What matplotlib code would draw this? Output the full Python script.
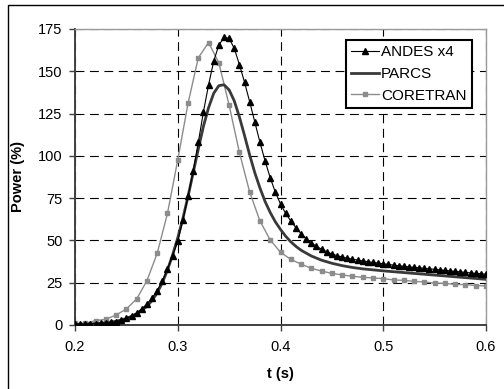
# Power transient comparison: ANDES x4 vs PARCS vs CORETRAN
import numpy as np
import matplotlib
matplotlib.use('Agg')
import matplotlib.pyplot as plt
from matplotlib.patches import Rectangle

plt.rcParams['font.family'] = ['Liberation Sans', 'DejaVu Sans']

# ANDES x4, sampled every 0.005 s from 0.2 to 0.6 s
andes_t = np.round(np.arange(0.2, 0.6001, 0.005), 3)
andes_p = [0.5, 0.5, 0.6, 0.7, 0.8, 1.0, 1.2, 1.5, 2.0, 2.8,
           4.0, 5.3, 7.2, 9.6, 12.4, 16.0, 20.3, 26.0, 33.0, 41.0,
           49.5, 62.0, 76.0, 91.0, 108.0, 126.0, 142.0, 156.0, 165.5, 170.0,
           169.5, 163.5, 154.0, 143.5, 132.0, 120.0, 108.0, 97.0, 87.0, 78.5,
           71.5, 66.0, 61.5, 57.5, 54.0, 51.0, 48.5, 46.5, 44.8, 43.3,
           42.0, 41.0, 40.2, 39.5, 38.9, 38.4, 37.9, 37.4, 37.0, 36.6,
           36.2, 35.8, 35.4, 35.0, 34.7, 34.4, 34.1, 33.8, 33.5, 33.2,
           32.9, 32.6, 32.3, 32.0, 31.7, 31.4, 31.1, 30.8, 30.5, 30.3,
           30.0]

# PARCS (solid line)
parcs_t = [0.20, 0.21, 0.22, 0.23, 0.24, 0.25, 0.26, 0.27, 0.275, 0.28,
           0.285, 0.29, 0.295, 0.30, 0.305, 0.31, 0.315, 0.32, 0.325, 0.33,
           0.335, 0.34, 0.345, 0.35, 0.355, 0.36, 0.365, 0.37, 0.375, 0.38,
           0.385, 0.39, 0.395, 0.40, 0.405, 0.41, 0.415, 0.42, 0.43, 0.44,
           0.45, 0.46, 0.47, 0.48, 0.49, 0.50, 0.52, 0.54, 0.56, 0.58, 0.60]
parcs_p = [0.3, 0.5, 0.8, 1.3, 2.2, 3.8, 6.5, 11.0, 14.5, 19.0,
           25.0, 32.5, 41.5, 51.5, 63.0, 76.0, 90.0, 104.0, 117.5, 128.5,
           137.0, 141.5, 142.0, 139.0, 132.5, 123.0, 112.0, 100.5, 90.0, 81.0,
           73.0, 66.5, 61.0, 56.5, 52.5, 49.2, 46.5, 44.2, 40.8, 38.3,
           36.5, 35.1, 34.0, 33.2, 32.6, 32.0, 31.0, 30.0, 29.0, 28.0, 27.0]

# CORETRAN, sampled every 0.01 s
coretran_t = np.round(np.arange(0.2, 0.6001, 0.01), 2)
coretran_p = [1.0, 1.0, 2.6, 3.4, 5.9, 9.5, 15.4, 26.2, 42.4, 66.0,
              97.6, 131.0, 158.0, 167.0, 155.0, 130.0, 102.0, 78.6, 61.5, 50.3,
              43.0, 38.8, 36.0, 33.5, 31.9, 30.5, 29.6, 28.8, 28.2, 27.8,
              27.4, 26.6, 26.4, 25.8, 25.4, 24.8, 24.6, 24.0, 23.9, 23.3,
              23.1]

x_ticks = [0.2, 0.3, 0.4, 0.5, 0.6]
y_ticks = [0, 25, 50, 75, 100, 125, 150, 175]

fig = plt.figure(figsize=(5.04, 3.89), dpi=100)
ax = fig.add_axes([75 / 504, 1 - 325 / 389, 411 / 504, 296 / 389])

# outer frame (left and top edges visible)
fig.patches.append(Rectangle((8 / 504, -0.1), 1.2, 1.1 - 5 / 389,
                             transform=fig.transFigure, fill=False,
                             edgecolor='black', linewidth=1.0))

ax.plot(andes_t, andes_p, color='black', linewidth=0.8, marker='^',
        markersize=3.8, label='ANDES x4', zorder=4)
ax.plot(parcs_t, parcs_p, color='#3a3a3a', linewidth=2.0, label='PARCS', zorder=3)
ax.plot(coretran_t, coretran_p, color='#8c8c8c', linewidth=1.0, marker='s',
        markersize=3.2, label='CORETRAN', zorder=2)

ax.set_xlim(0.2, 0.6)
ax.set_ylim(0, 175)
ax.set_xticks(x_ticks)
ax.set_xticklabels(['0.2', '0.3', '0.4', '0.5', '0.6'])
ax.set_yticks(y_ticks)
ax.grid(True, color='black', linestyle=(0, (8, 5)), linewidth=0.8)
ax.set_axisbelow(True)

for side in ['left', 'bottom']:
    ax.spines[side].set_color('#404040')
    ax.spines[side].set_linewidth(1.4)
for side in ['top', 'right']:
    ax.spines[side].set_color('#9a9a9a')
    ax.spines[side].set_linewidth(1.0)

ax.tick_params(axis='both', labelsize=10.5, length=4, width=1, color='#404040')
ax.tick_params(axis='x', pad=7)
ax.tick_params(axis='y', pad=5)
ax.set_xlabel('t (s)', fontsize=10.5, fontweight='bold', labelpad=9)
ax.set_ylabel('Power (%)', fontsize=10.5, fontweight='bold', labelpad=9)

leg = ax.legend(loc='upper right', bbox_to_anchor=(472 / 504, 1 - 40 / 389),
                bbox_transform=fig.transFigure, fontsize=11, frameon=True,
                fancybox=False, handlelength=1.8, handletextpad=0.15,
                borderpad=0.35, labelspacing=0.5, borderaxespad=0)
leg.get_frame().set_edgecolor('black')
leg.get_frame().set_linewidth(1.5)
leg.get_frame().set_alpha(1)

fig.savefig('out.png', dpi=100)
